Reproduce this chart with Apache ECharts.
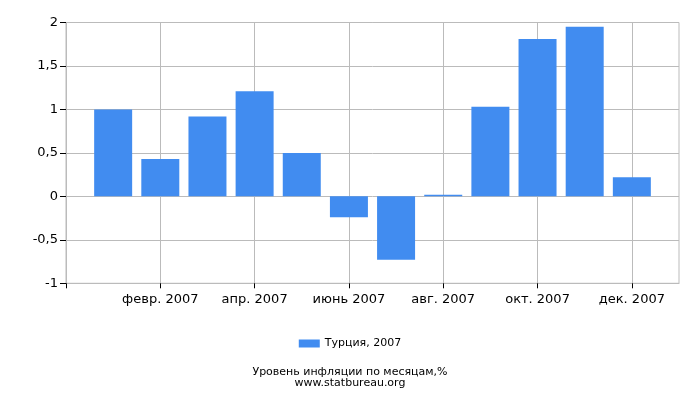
<!DOCTYPE html>
<html>
<head>
<meta charset="utf-8">
<script src="https://cdn.jsdelivr.net/npm/echarts@6/dist/echarts.min.js"></script>
<style>
html,body{margin:0;padding:0;background:#fff;}
#chart{width:700px;height:400px;}
</style>
</head>
<body>
<div id="chart"></div>
<script>
var months = ['янв. 2007','февр. 2007','март 2007','апр. 2007','май 2007','июнь 2007','июль 2007','авг. 2007','сент. 2007','окт. 2007','нояб. 2007','дек. 2007'];
var values = [1.00, 0.43, 0.92, 1.21, 0.50, -0.24, -0.73, 0.02, 1.03, 1.81, 1.95, 0.22];
var seriesName = 'Турция, 2007';
var titleLines = ['Уровень инфляции по месяцам,%', 'www.statbureau.org'];

// month number -> value, so bars sit on a value axis 0..13
var barData = values.map(function(v, i){ return [i + 1, v]; });

var chart = echarts.init(document.getElementById('chart'));
var option = {
    animation: false,
    backgroundColor: '#fff',
    textStyle: {fontFamily: 'DejaVu Sans'},
    title: {
        text: titleLines.join('\n'),
        left: 'center',
        top: 362,
        textStyle: {fontSize: 11, fontWeight: 'normal', color: '#000', lineHeight: 11, fontFamily: 'DejaVu Sans'}
    },
    legend: {
        top: 333,
        left: 'center',
        itemWidth: 21,
        itemHeight: 8,
        itemGap: 5,
        icon: 'rect',
        textStyle: {fontSize: 11, color: '#000', fontFamily: 'DejaVu Sans'},
        data: [seriesName]
    },
    grid: {left: 66, right: 21, top: 22.5, bottom: 116.7, show: true, borderColor: '#bbb', borderWidth: 1, containLabel: false},
    xAxis: {
        type: 'value',
        min: 0,
        max: 13,
        interval: 2,
        axisLine: {show: true, onZero: false, lineStyle: {color: '#bbb'}},
        axisTick: {show: true, length: 5, lineStyle: {color: '#000'}, customValues: [0, 2, 4, 6, 8, 10, 12]},
        splitLine: {show: true, lineStyle: {color: '#bbb'}},
        axisLabel: {
            customValues: [2, 4, 6, 8, 10, 12],
            margin: 10,
            fontSize: 13,
            color: '#000',
            fontFamily: 'DejaVu Sans',
            formatter: function(v){ return months[v - 1] || ''; }
        }
    },
    yAxis: {
        type: 'value',
        min: -1,
        max: 2,
        interval: 0.5,
        axisLine: {show: true, onZero: false, lineStyle: {color: '#bbb'}},
        axisTick: {show: true, length: 6, lineStyle: {color: '#000'}},
        splitLine: {show: true, lineStyle: {color: '#bbb'}},
        axisLabel: {
            margin: 8,
            fontSize: 13,
            color: '#000',
            fontFamily: 'DejaVu Sans',
            formatter: function(v){ return String(v).replace('.', ','); }
        }
    },
    series: [{
        name: seriesName,
        type: 'bar',
        barWidth: 38,
        itemStyle: {color: '#418cf0'},
        data: barData
    }]
};
chart.setOption(option);
</script>
</body>
</html>
